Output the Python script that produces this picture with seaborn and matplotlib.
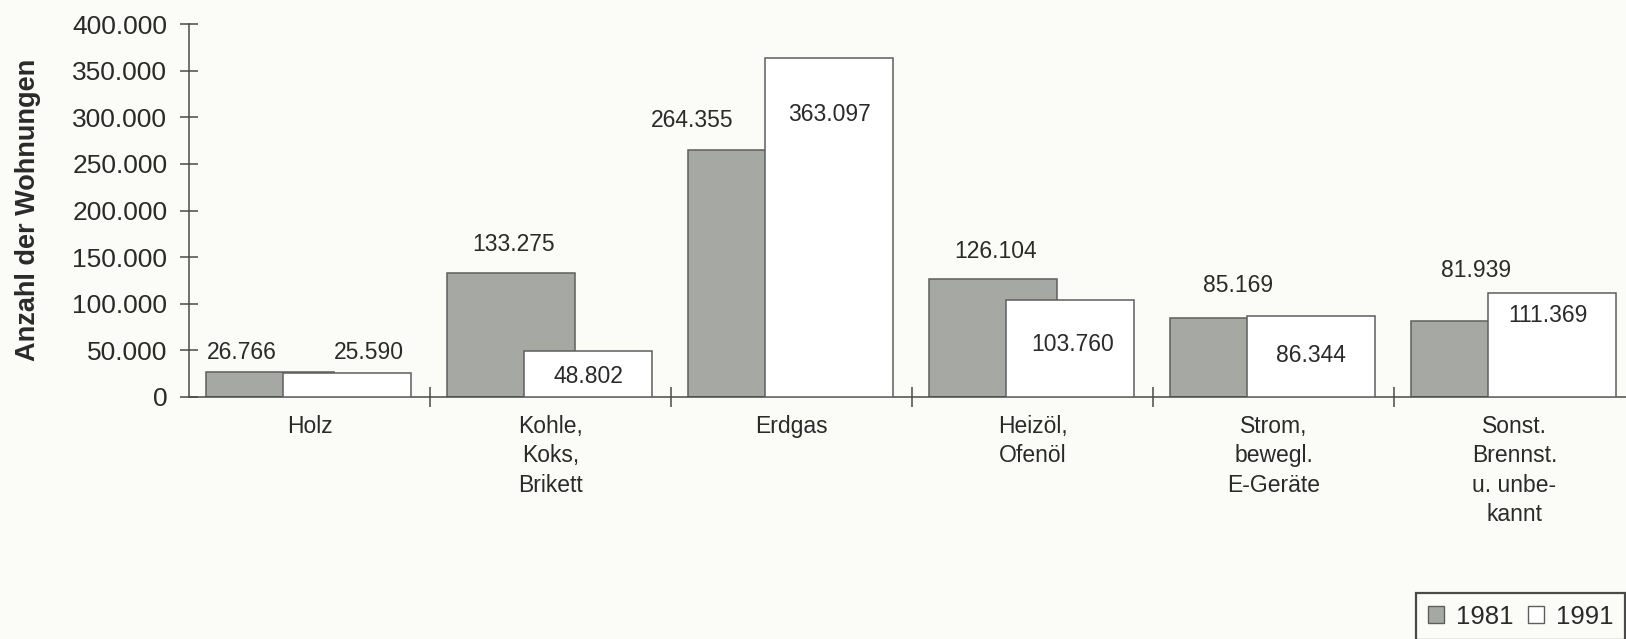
import pandas as pd
import matplotlib.pyplot as plt
import matplotlib.ticker as mticker
from matplotlib.patches import Patch
import seaborn as sns


# Wohnungen nach Heizenergie, 1981 und 1991
kategorien = ['Holz', 'Kohle,\nKoks,\nBrikett', 'Erdgas', 'Heizöl,\nOfenöl',
              'Strom,\nbewegl.\nE-Geräte', 'Sonst.\nBrennst.\nu. unbe-\nkannt']
jahre = ['1981', '1991']
werte_1981 = [26766, 133275, 264355, 126104, 85169, 81939]
werte_1991 = [25590, 48802, 363097, 103760, 86344, 111369]
y_ticks = [0, 50000, 100000, 150000, 200000, 250000, 300000, 350000, 400000]

df = pd.DataFrame({
    'Energie': kategorien * 2,
    'Jahr': [jahre[0]] * len(kategorien) + [jahre[1]] * len(kategorien),
    'Wohnungen': werte_1981 + werte_1991,
})

# label offsets in pixels (dx, dy) from the top centre of each bar
offsets_1981 = [(-28, 20), (3, 28), (-60, 30), (3, 28), (4, 32), (1, 50)]
offsets_1991 = [(22, 21), (1, -25), (1, -56), (3, -44), (0, -39), (-4, -22)]

grau = '#a6a9a3'
weiss = '#ffffff'
linie = '#4a4a4a'
text_farbe = '#2a2a2a'
hintergrund = '#fbfbf7'

sns.set_style('ticks')
plt.rcParams['font.family'] = ['Liberation Sans', 'DejaVu Sans']
plt.rcParams['text.color'] = text_farbe

fig = plt.figure(figsize=(16.26, 6.39), dpi=100, facecolor=hintergrund)
ax = fig.add_axes([189 / 1626, 242 / 639, (1626 - 189) / 1626, 373 / 639])
ax.set_facecolor(hintergrund)

sns.barplot(data=df, x='Energie', y='Wohnungen', hue='Jahr', hue_order=jahre,
            palette=[grau, weiss], edgecolor='#5e5e5e', linewidth=1.1,
            saturation=1, errorbar=None, legend=False, ax=ax)

# overlapping bars: both wide, 1991 in front and shifted right
n = len(kategorien)
bar_w = 0.53
for k, p in enumerate(ax.patches):
    mitte = p.get_x() + p.get_width() / 2
    i = round(mitte)
    links = i - 0.43 if k < n else i - 0.11
    p.set_x(links)
    p.set_width(bar_w)
    p.set_zorder(2 if k < n else 3)

def fmt(v):
    return f'{v:,.0f}'.replace(',', '.')

for k, p in enumerate(ax.patches):
    i = k % n
    wert = werte_1981[i] if k < n else werte_1991[i]
    dx, dy = offsets_1981[i] if k < n else offsets_1991[i]
    ax.annotate(fmt(wert), (p.get_x() + bar_w / 2, wert),
                xytext=(dx, dy), textcoords='offset pixels',
                ha='center', va='center', fontsize=16.5, color=text_farbe,
                zorder=5)

# axes
ax.set_ylim(0, 400000)
ax.set_xlim(-0.5, -0.5 + (1626 - 189) / 241)
ax.set_yticks(y_ticks)
ax.yaxis.set_major_formatter(mticker.FuncFormatter(lambda v, p: fmt(v)))
ax.tick_params(axis='y', direction='inout', length=13, width=1.1,
               color=linie, labelsize=19, pad=9, labelcolor=text_farbe)

ax.set_xticks([i + 0.5 for i in range(n - 1)])
ax.set_xticklabels([])
ax.tick_params(axis='x', which='major', direction='inout', length=14,
               width=1.1, color=linie)
ax.set_xticks(range(n), minor=True)
ax.set_xticklabels(kategorien, minor=True, fontsize=16.5, linespacing=1.35,
                   color=text_farbe)
ax.tick_params(axis='x', which='minor', length=0, pad=13)
for t in ax.get_xticklabels(minor=True):
    t.set_verticalalignment('top')
    t.set_multialignment('center')

sns.despine(ax=ax)
for s in ['left', 'bottom']:
    ax.spines[s].set_color(linie)
    ax.spines[s].set_linewidth(1.1)

ax.set_xlabel('')
ax.set_ylabel('')
fig.text(28 / 1626, 1 - 210 / 639, 'Anzahl der Wohnungen', rotation=90,
         ha='center', va='center', fontsize=19.5, fontweight='bold',
         color=text_farbe)

handles = [Patch(facecolor=grau, edgecolor='#5e5e5e', linewidth=1.0),
           Patch(facecolor=weiss, edgecolor='#5e5e5e', linewidth=1.0)]
leg = fig.legend(handles, jahre, loc='upper right', ncol=2,
                 bbox_to_anchor=(1625 / 1626, 46 / 639), fontsize=18.5,
                 frameon=True, fancybox=False, borderpad=0.45,
                 handlelength=0.65, handleheight=0.65, handletextpad=0.45,
                 columnspacing=0.55, borderaxespad=0)
leg.get_frame().set_edgecolor('#1e1e1e')
leg.get_frame().set_linewidth(1.6)
leg.get_frame().set_facecolor(hintergrund)

plt.savefig('out.png', dpi=100, facecolor=hintergrund)
